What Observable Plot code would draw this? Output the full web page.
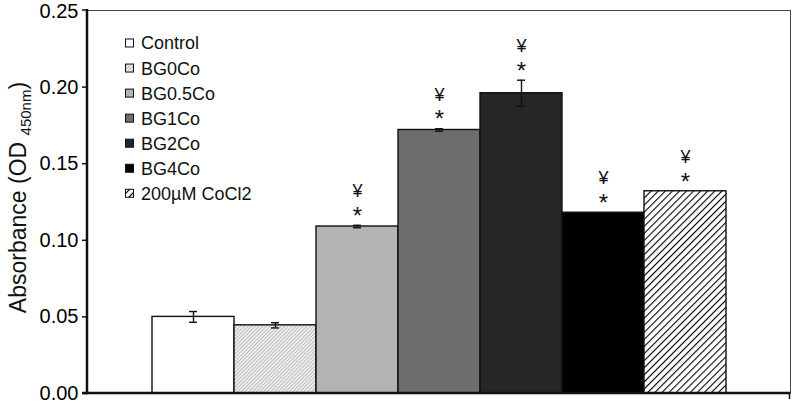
<!DOCTYPE html>
<html><head><meta charset="utf-8">
<script src="https://cdn.jsdelivr.net/npm/d3@7"></script>
<script src="https://cdn.jsdelivr.net/npm/@observablehq/plot@0.6"></script>
<style>body{margin:0;background:#fff;} svg{display:block;overflow:visible;}</style>
</head><body><div id="chart"></div>
<script>
const categories = ["Control", "BG0Co", "BG0.5Co", "BG1Co", "BG2Co", "BG4Co", "200µM CoCl2"];
const values = [0.050, 0.0445, 0.109, 0.172, 0.196, 0.118, 0.132];
const errors = [0.0035, 0.0017, 0.0008, 0.0008, 0.0085, 0, 0];
const starMarks = ["", "", "*", "*", "*", "*", "*"];
const yenMarks = ["", "", "¥", "¥", "¥", "¥", "¥"];
const yTicks = [0, 0.05, 0.10, 0.15, 0.20, 0.25];
const fills = ["#ffffff", "url(#hatchLight)", "#b3b3b3", "#6e6e6e", "#262626", "#000000", "url(#hatchBold)"];

const data = categories.map((c, i) => ({c, v: values[i], e: errors[i], star: starMarks[i], yen: yenMarks[i], fill: fills[i]}));
const errData = data.filter(d => d.e > 0);

const W = 792, H = 404, ML = 87, MT = 10, MB = 11, MR = 2;
const font = "'Liberation Sans', Arial, sans-serif";
const axisOpts = {tickFormat: d3.format(".2f"), tickSize: 5, tickPadding: 4, fontSize: 20, label: null, stroke: "#111", strokeWidth: 1.5};

const chart = Plot.plot({
  width: W, height: H,
  marginLeft: ML, marginTop: MT, marginBottom: MB, marginRight: MR,
  style: {fontFamily: font, fontSize: "20px", background: "#fff", color: "#000"},
  x: {domain: categories, paddingInner: 0, paddingOuter: 0.76, axis: null},
  y: {domain: [0, 0.25]},
  color: {type: "identity"},
  marks: [
    Plot.frame({stroke: "#444", strokeWidth: 1}),
    Plot.barY(data, {x: "c", y: "v", fill: "fill", stroke: "#111", strokeWidth: 1.4}),
    Plot.ruleX(errData, {x: "c", y1: d => d.v - d.e, y2: d => d.v + d.e, stroke: "#111", strokeWidth: 1.4}),
    Plot.tickY(errData, {x: "c", y: d => d.v + d.e, insetLeft: 37, insetRight: 37, stroke: "#111", strokeWidth: 1.4}),
    Plot.tickY(errData, {x: "c", y: d => d.v - d.e, insetLeft: 37, insetRight: 37, stroke: "#111", strokeWidth: 1.4}),
    Plot.text(data, {x: "c", y: d => d.v + d.e, text: "star", dy: -9, fontSize: 24, fill: "#111"}),
    Plot.text(data, {x: "c", y: d => d.v + d.e, text: "yen", dy: -34, fontSize: 18, fill: "#111"}),
    Plot.axisY(yTicks.slice(0, -1), axisOpts),
    Plot.axisY(yTicks.slice(-1), {...axisOpts, tickSize: 0, tickPadding: 9, dy: 1.5})
  ]
});

const svg = d3.select(chart);
const defs = svg.insert("defs", ":first-child");
const p1 = defs.append("pattern").attr("id", "hatchLight").attr("patternUnits", "userSpaceOnUse")
  .attr("width", 2.6).attr("height", 2.6).attr("patternTransform", "rotate(45)");
p1.append("rect").attr("width", 2.6).attr("height", 2.6).attr("fill", "#eeeeee");
p1.append("line").attr("x1", 0).attr("y1", 0).attr("x2", 0).attr("y2", 2.6).attr("stroke", "#999").attr("stroke-width", 1.1);
const p2 = defs.append("pattern").attr("id", "hatchBold").attr("patternUnits", "userSpaceOnUse")
  .attr("width", 5).attr("height", 5).attr("patternTransform", "rotate(45)");
p2.append("rect").attr("width", 5).attr("height", 5).attr("fill", "#fff");
p2.append("line").attr("x1", 0).attr("y1", 0).attr("x2", 0).attr("y2", 5).attr("stroke", "#000").attr("stroke-width", 2.2);

const ys = chart.scale("y");
const y0 = ys.apply(0), yTop = ys.apply(0.25);
const axes = svg.append("g").attr("stroke", "#111").attr("stroke-width", 2.5);
axes.append("line").attr("x1", ML).attr("x2", ML).attr("y1", yTop - 1).attr("y2", y0 + 1.2);
axes.append("line").attr("x1", ML - 5).attr("x2", W - MR).attr("y1", y0).attr("y2", y0);
axes.append("line").attr("x1", ML - 5).attr("x2", ML).attr("y1", yTop).attr("y2", yTop).attr("stroke-width", 1.5);
axes.append("line").attr("x1", W - MR - 0.5).attr("x2", W - MR - 0.5).attr("y1", y0).attr("y2", y0 + 6).attr("stroke-width", 1.5);

// legend
const legend = svg.append("g").attr("font-family", font).attr("font-size", 18).attr("text-anchor", "start");
categories.forEach((c, i) => {
  const cy = 43 + i * 25.05;
  legend.append("rect").attr("x", 125.5).attr("y", cy - 4).attr("width", 8).attr("height", 8)
    .attr("fill", fills[i]).attr("stroke", "#111").attr("stroke-width", 1);
  legend.append("text").attr("x", 141).attr("y", cy).attr("dy", "0.36em").attr("fill", "#111")
    .attr("text-anchor", "start").text(c);
});

// y label
const lab = svg.append("text").attr("transform", `translate(26,${(MT + y0) / 2 - 4}) rotate(-90)`)
  .attr("text-anchor", "middle").attr("font-family", font).attr("font-size", 23).attr("fill", "#111");
lab.append("tspan").text("Absorbance (OD ");
lab.append("tspan").attr("font-size", 15).attr("dy", 5).text("450nm");
lab.append("tspan").attr("dy", -5).text(")");

document.getElementById("chart").appendChild(chart);
</script>
</body></html>
